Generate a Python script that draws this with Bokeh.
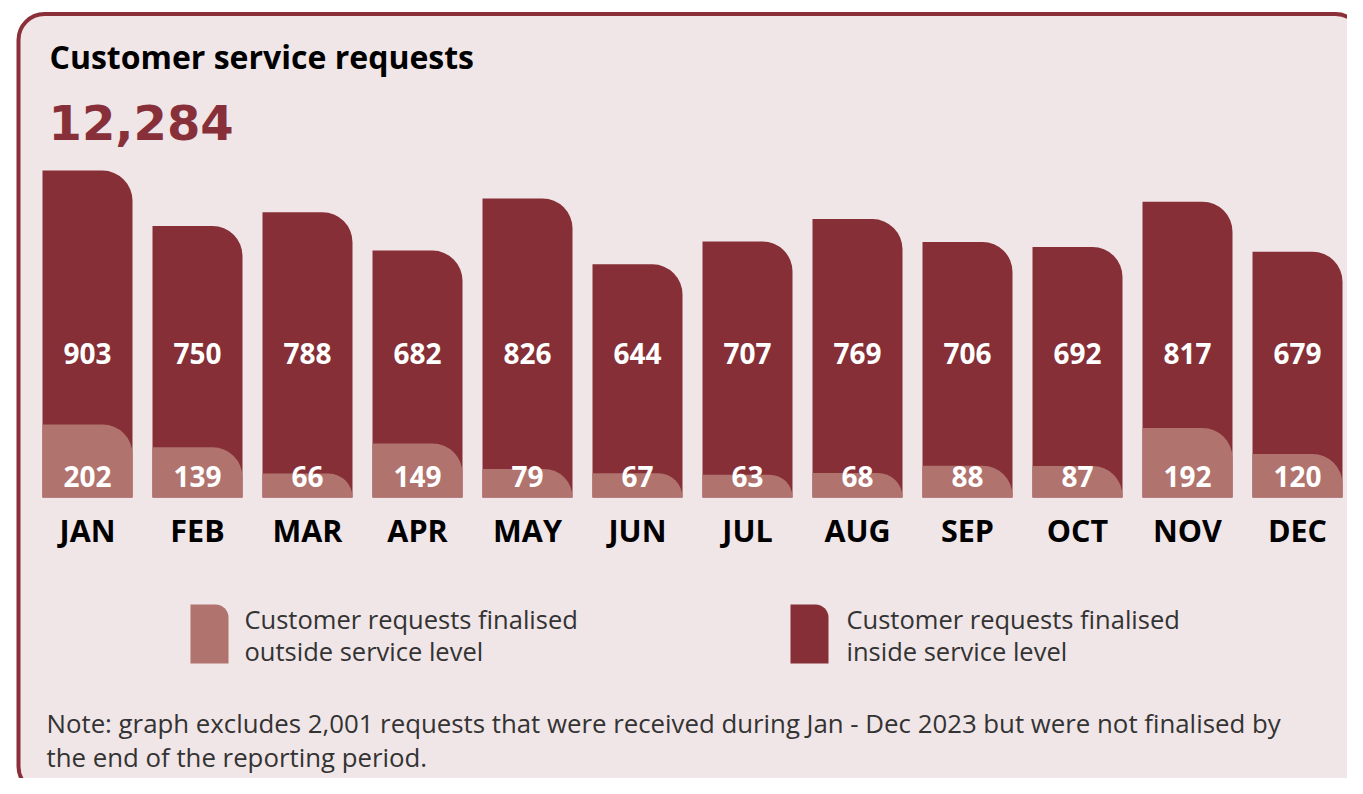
from bokeh.plotting import figure
from bokeh.models import Range1d, ColumnDataSource
from bokeh.core.properties import value
from bokeh.embed import file_html
from bokeh.resources import INLINE

# ---- data ----
months = ["JAN", "FEB", "MAR", "APR", "MAY", "JUN", "JUL", "AUG", "SEP", "OCT", "NOV", "DEC"]
inside = [903, 750, 788, 682, 826, 644, 707, 769, 706, 692, 817, 679]
outside = [202, 139, 66, 149, 79, 67, 63, 68, 88, 87, 192, 120]
title_text = "Customer service requests"
total_text = "12,284"
legend_outside = ["Customer requests finalised", "outside service level"]
legend_inside = ["Customer requests finalised", "inside service level"]
note_lines = ["Note: graph excludes 2,001 requests that were received during Jan - Dec 2023 but were not finalised by",
              "the end of the reporting period."]

DARK = "#862f37"
LIGHT = "#b0736d"
PANEL = "#f0e5e7"
BORDER = "#8b2f38"

# pixel helpers (layout only)
W, H = 1347, 778
def dx(px):
    return (px - 87) / 110.0
def dy(py):
    return (497 - py) / 0.362

p = figure(width=W, height=H, output_backend="svg", toolbar_location=None,
           x_range=Range1d(dx(0), dx(W)), y_range=Range1d(dy(H), dy(0)),
           min_border=0, outline_line_color=None,
           background_fill_color="white", border_fill_color="white")
p.axis.visible = False
p.grid.visible = False

# panel
p.quad(left=[dx(18)], right=[dx(1361)], top=[dy(13.5)], bottom=[dy(792)],
       fill_color=PANEL, line_color=BORDER, line_width=4, border_radius=26)

idx = list(range(len(months)))
src = ColumnDataSource(dict(x=idx, inside=inside, outside=outside, months=months,
                            inside_s=[str(v) for v in inside], outside_s=[str(v) for v in outside]))
bw = 90 / 110.0
p.vbar(x="x", top="inside", bottom=0, width=bw, source=src, fill_color=DARK, line_color=None,
       border_radius=(0, 30, 0, 0))
p.vbar(x="x", top="outside", bottom=0, width=bw, source=src, fill_color=LIGHT, line_color=None,
       border_radius=(0, 30, 0, 0))

font = value("Open Sans")
p.text(x="x", y=dy(352.5), text="inside_s", source=src, text_font=font, text_font_style="bold",
       text_font_size="28px", text_color="white", text_align="center", text_baseline="middle")
p.text(x="x", y=dy(475.5), text="outside_s", source=src, text_font=font, text_font_style="bold",
       text_font_size="28px", text_color="white", text_align="center", text_baseline="middle")
p.text(x="x", y=dy(529), text="months", source=src, text_font=font, text_font_style="bold",
       text_font_size="30.5px", text_color="black", text_align="center", text_baseline="middle")

# title and total
p.text(x=[dx(49)], y=[dy(55.5)], text=[title_text], text_font=font, text_font_style="bold",
       text_font_size="32px", text_color="black", text_baseline="middle")
p.text(x=[dx(48)], y=[dy(122)], text=[total_text], text_font=value("DejaVu Sans"), text_font_style="bold",
       text_font_size="48px", text_color="#88303a", text_baseline="middle")

# legend
p.quad(left=[dx(190)], right=[dx(228)], top=[dy(604)], bottom=[dy(663)],
       fill_color=LIGHT, line_color=None, border_radius=(0, 13, 0, 0))
p.quad(left=[dx(790)], right=[dx(828)], top=[dy(604)], bottom=[dy(663)],
       fill_color=DARK, line_color=None, border_radius=(0, 13, 0, 0))
for i, line in enumerate(legend_outside):
    p.text(x=[dx(244)], y=[dy(618 + 32 * i)], text=[line], text_font=font, text_font_size="25.5px",
           text_color="#333333", text_baseline="middle")
for i, line in enumerate(legend_inside):
    p.text(x=[dx(846)], y=[dy(618 + 32 * i)], text=[line], text_font=font, text_font_size="25.5px",
           text_color="#333333", text_baseline="middle")

# note
for i, line in enumerate(note_lines):
    p.text(x=[dx(46)], y=[dy(722 + 34 * i)], text=[line], text_font=font, text_font_size="25.8px",
           text_color="#333333", text_baseline="middle")

open("out.html", "w").write(file_html(p, INLINE))
